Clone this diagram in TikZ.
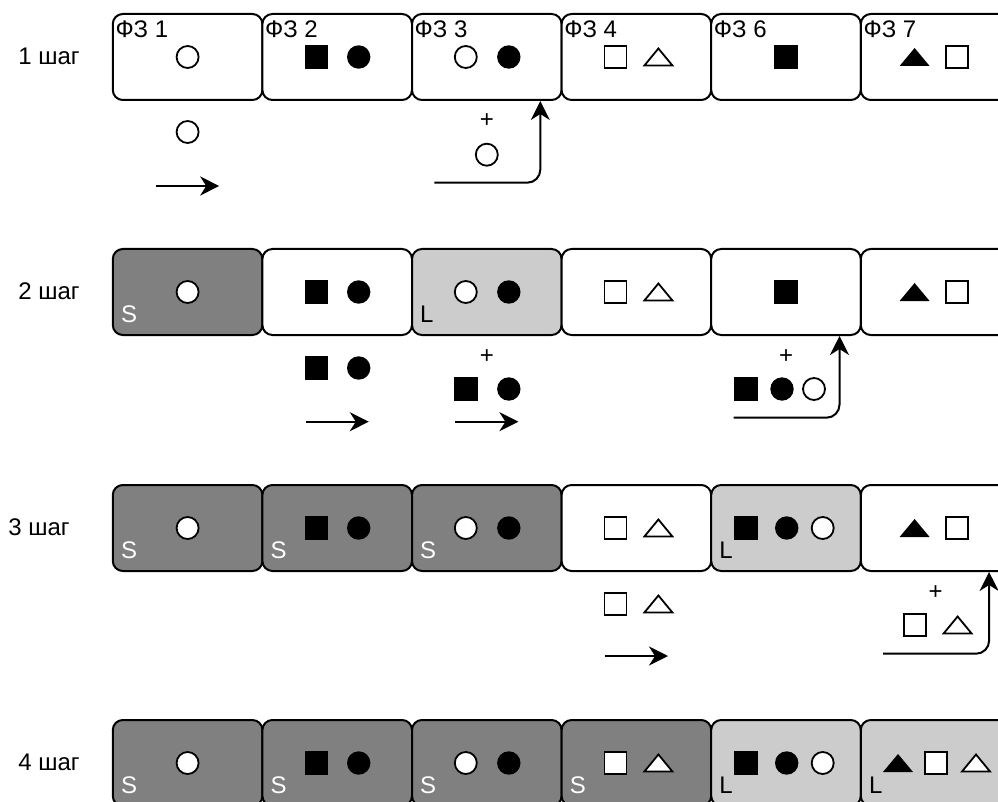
\documentclass[tikz,border=0pt]{standalone}
\usepackage{fontspec}
\setmainfont{Liberation Sans}
\usetikzlibrary{arrows.meta,calc}
\definecolor{darkbox}{HTML}{808080}
\definecolor{lightbox}{HTML}{CCCCCC}
\tikzset{
  box/.style={draw, line width=2pt, rounded corners=10pt, minimum width=149.6pt, minimum height=86pt, inner sep=0pt, fill=white},
  dbox/.style={box, fill=darkbox},
  lbox/.style={box, fill=lightbox},
  shp/.style={line width=1.8pt},
  txt/.style={font=\fontsize{24}{28}\selectfont, inner sep=0pt},
  phase/.style={txt, anchor=base west},
  slab/.style={txt, anchor=base west, text=white},
  llab/.style={txt, anchor=base west, text=black},
  arr/.style={line width=2pt, -{Stealth[length=19pt,width=19pt,inset=6pt]}},
  carr/.style={arr, rounded corners=13pt},
  ocirc/.pic={\draw[shp, fill=white] (0,0) circle (11);},
  fcirc/.pic={\fill[black] (0,0) circle (11.7);},
  osq/.pic={\draw[shp, fill=white] (-11,-11) rectangle (11,11);},
  fsq/.pic={\fill[black] (-11.7,-11.7) rectangle (11.7,11.7);},
  otri/.pic={\draw[shp, fill=white, line join=miter] (-14,8.5) -- (14,8.5) -- (0,-8.5) -- cycle;},
  ftri/.pic={\fill[black] (-15,9) -- (15,9) -- (0,-9) -- cycle;},
}
\begin{document}
\begin{tikzpicture}[x=1pt, y=-1pt]
\useasboundingbox (0,0) rectangle (998,802);
\clip (0,0) rectangle (998,802);

% step labels
\node[txt] (st1) at (49,56) {1 шаг};
\node[txt] (st2) at (49,291) {2 шаг};
\node[txt] (st3) at (39,527) {3 шаг};
\node[txt] (st4) at (49,762) {4 шаг};

% ---------------- row 1 ----------------
\node[box] (b11) at (187.6,57) {};
\node[box] (b12) at (337.2,57) {};
\node[box] (b13) at (486.8,57) {};
\node[box] (b14) at (636.4,57) {};
\node[box] (b15) at (786.0,57) {};
\node[box] (b16) at (935.6,57) {};
\foreach \i/\n in {1/1,2/2,3/3,4/4,5/6,6/7}
  \node[phase] (ph\i) at ($(b1\i.north west)+(3.5,24.5)$) {ФЗ \n};
\pic at (b11) {ocirc};
\pic at ([xshift=-21pt]b12) {fsq};
\pic at ([xshift=21.5pt]b12) {fcirc};
\pic at ([xshift=-21pt]b13) {ocirc};
\pic at ([xshift=22pt]b13) {fcirc};
\pic at ([xshift=-21pt]b14) {osq};
\pic at ([xshift=22pt]b14) {otri};
\pic at (b15) {fsq};
\pic at ([xshift=-21pt]b16) {ftri};
\pic at ([xshift=21pt]b16) {osq};

% below row 1
\pic at ($(b11.south)+(0,31)$) {ocirc};
\coordinate (s1a) at ($(b11.south)+(-31.6,85)$);
\coordinate (s1b) at ($(b11.south)+(31.6,85)$);
\draw[arr] (s1a) -- (s1b);
\node[txt] (p1) at ($(b13.south)+(0,20)$) {+};
\pic at ($(b13.south)+(0,53.7)$) {ocirc};
\coordinate (c1) at ($(b13.south)+(53.5-106,81.7)$);
\draw[carr] (c1) -| ([xshift=53.5pt]b13.south);

% ---------------- row 2 ----------------
\node[dbox] (b21) at (187.6,292) {};
\node[box]  (b22) at (337.2,292) {};
\node[lbox] (b23) at (486.8,292) {};
\node[box]  (b24) at (636.4,292) {};
\node[box]  (b25) at (786.0,292) {};
\node[box]  (b26) at (935.6,292) {};
\node[slab] (s21) at ($(b21.south west)+(9,-14)$) {S};
\node[llab] (l23) at ($(b23.south west)+(9,-14)$) {L};
\pic at (b21) {ocirc};
\pic at ([xshift=-21pt]b22) {fsq};
\pic at ([xshift=21.5pt]b22) {fcirc};
\pic at ([xshift=-21pt]b23) {ocirc};
\pic at ([xshift=22pt]b23) {fcirc};
\pic at ([xshift=-21pt]b24) {osq};
\pic at ([xshift=22pt]b24) {otri};
\pic at (b25) {fsq};
\pic at ([xshift=-21pt]b26) {ftri};
\pic at ([xshift=21pt]b26) {osq};

% below row 2
\pic at ($(b22.south)+(-21,32)$) {fsq};
\pic at ($(b22.south)+(21.5,32)$) {fcirc};
\coordinate (s2a) at ($(b22.south)+(-31.6,85.7)$);
\coordinate (s2b) at ($(b22.south)+(31.6,85.7)$);
\draw[arr] (s2a) -- (s2b);
\node[txt] (p2) at ($(b23.south)+(0,21)$) {+};
\pic at ($(b23.south)+(-21,53)$) {fsq};
\pic at ($(b23.south)+(22,53)$) {fcirc};
\coordinate (s3a) at ($(b23.south)+(-31.6,85.7)$);
\coordinate (s3b) at ($(b23.south)+(31.6,85.7)$);
\draw[arr] (s3a) -- (s3b);
\node[txt] (p3) at ($(b25.south)+(0,21)$) {+};
\pic at ($(b25.south)+(-40,53)$) {fsq};
\pic at ($(b25.south)+(-4,53)$) {fcirc};
\pic at ($(b25.south)+(28,53)$) {ocirc};
\coordinate (c2) at ($(b25.south)+(53.5-106,81.7)$);
\draw[carr] (c2) -| ([xshift=53.5pt]b25.south);

% ---------------- row 3 ----------------
\node[dbox] (b31) at (187.6,528) {};
\node[dbox] (b32) at (337.2,528) {};
\node[dbox] (b33) at (486.8,528) {};
\node[box]  (b34) at (636.4,528) {};
\node[lbox] (b35) at (786.0,528) {};
\node[box]  (b36) at (935.6,528) {};
\foreach \i in {1,2,3}
  \node[slab] (s3\i) at ($(b3\i.south west)+(9,-14)$) {S};
\node[llab] (l35) at ($(b35.south west)+(9,-14)$) {L};
\pic at (b31) {ocirc};
\pic at ([xshift=-21pt]b32) {fsq};
\pic at ([xshift=21.5pt]b32) {fcirc};
\pic at ([xshift=-21pt]b33) {ocirc};
\pic at ([xshift=22pt]b33) {fcirc};
\pic at ([xshift=-21pt]b34) {osq};
\pic at ([xshift=22pt]b34) {otri};
\pic at ([xshift=-40pt]b35) {fsq};
\pic at ([xshift=0.7pt]b35) {fcirc};
\pic at ([xshift=36.7pt]b35) {ocirc};
\pic at ([xshift=-21pt]b36) {ftri};
\pic at ([xshift=21pt]b36) {osq};

% below row 3
\pic at ($(b34.south)+(-21,32)$) {osq};
\pic at ($(b34.south)+(22,32)$) {otri};
\coordinate (s4a) at ($(b34.south)+(-31.6,84)$);
\coordinate (s4b) at ($(b34.south)+(31.6,84)$);
\draw[arr] (s4a) -- (s4b);
\node[txt] (p4) at ($(b36.south)+(0,21)$) {+};
\pic at ($(b36.south)+(-21,53)$) {osq};
\pic at ($(b36.south)+(22,53)$) {otri};
\coordinate (c3) at ($(b36.south)+(53.5-106,81.7)$);
\draw[carr] (c3) -| ([xshift=53.5pt]b36.south);

% ---------------- row 4 ----------------
\node[dbox] (b41) at (187.6,763) {};
\node[dbox] (b42) at (337.2,763) {};
\node[dbox] (b43) at (486.8,763) {};
\node[dbox] (b44) at (636.4,763) {};
\node[lbox] (b45) at (786.0,763) {};
\node[lbox] (b46) at (935.6,763) {};
\foreach \i in {1,2,3,4}
  \node[slab] (s4\i) at ($(b4\i.south west)+(9,-14)$) {S};
\foreach \i in {5,6}
  \node[llab] (l4\i) at ($(b4\i.south west)+(9,-14)$) {L};
\pic at (b41) {ocirc};
\pic at ([xshift=-21pt]b42) {fsq};
\pic at ([xshift=21.5pt]b42) {fcirc};
\pic at ([xshift=-21pt]b43) {ocirc};
\pic at ([xshift=22pt]b43) {fcirc};
\pic at ([xshift=-21pt]b44) {osq};
\pic at ([xshift=22pt]b44) {otri};
\pic at ([xshift=-40pt]b45) {fsq};
\pic at ([xshift=0.7pt]b45) {fcirc};
\pic at ([xshift=36.7pt]b45) {ocirc};
\pic at ([xshift=-37.6pt]b46) {ftri};
\pic at ([xshift=0.4pt]b46) {osq};
\pic at ([xshift=40.4pt]b46) {otri};
\end{tikzpicture}
\end{document}
